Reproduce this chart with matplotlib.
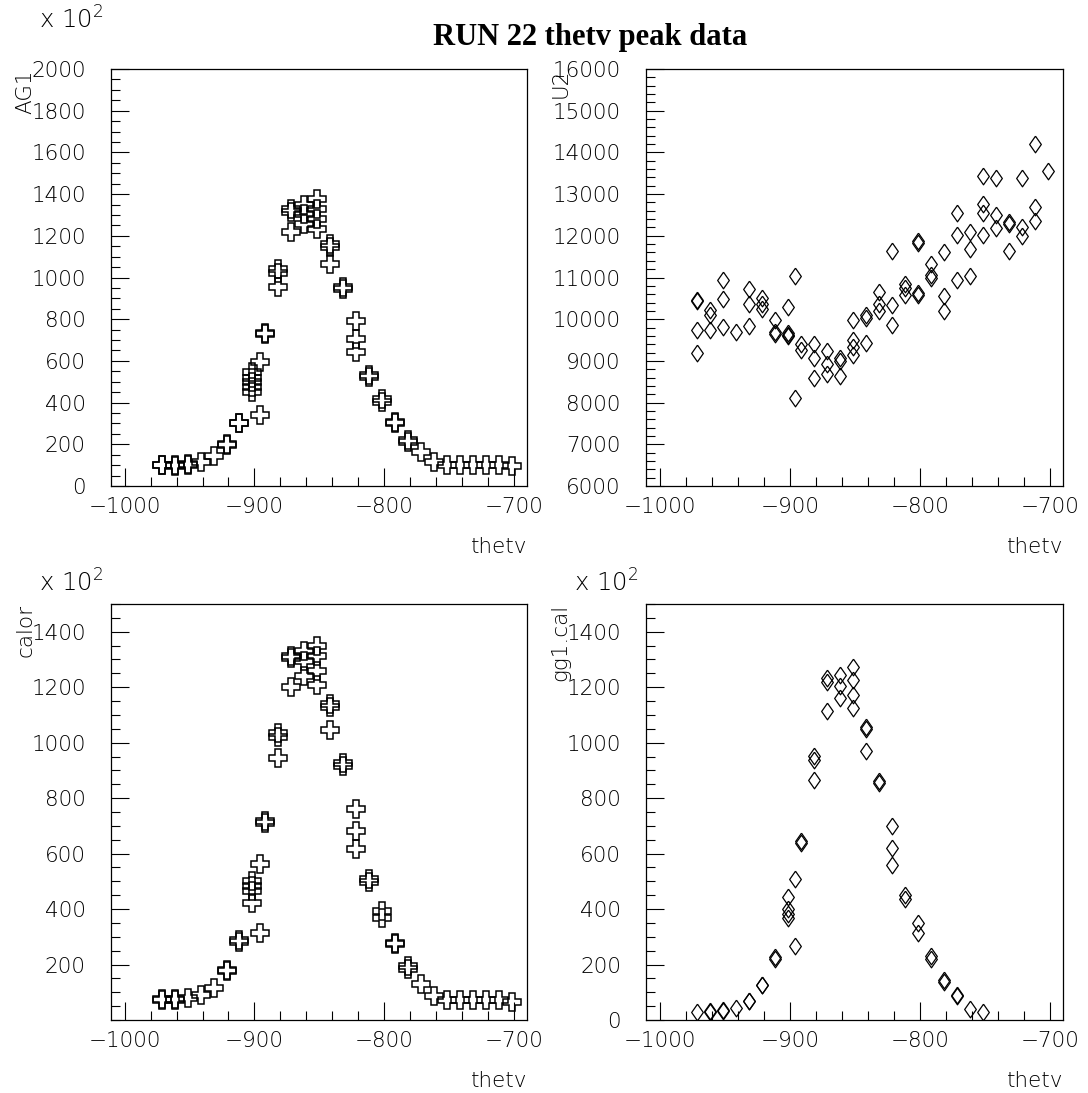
import numpy as np
import matplotlib
matplotlib.use("Agg")
import matplotlib.pyplot as plt
from matplotlib.ticker import MultipleLocator
from matplotlib import font_manager

# thetv scan points (same grid for all four plots)
thetv = [-971.5, -961.5, -951.5, -941.5, -931.5, -921.5, -911.5, -901.5, -896.0,
         -891.5, -881.5, -871.5, -861.5, -851.5, -841.5, -831.5, -821.5, -811.5,
         -801.5, -791.5, -781.5, -771.5, -761.5, -751.5, -741.5, -731.5, -721.5,
         -711.5, -701.5]

# AG1 (x 10^2), a few readings per point
ag1 = [[101, 99], [100, 98], [105, 103], [114], [144], [200, 197], [304, 300],
       [545, 520, 498, 474, 450], [597, 342], [734, 730], [1042, 1020, 954],
       [1330, 1314, 1218], [1346, 1306, 1258], [1378, 1330, 1282, 1234],
       [1162, 1146, 1066], [954, 944], [789, 706, 642], [534, 525], [418, 402],
       [306, 301], [221, 210], [165], [114], [101], [100], [100], [100], [100], [96]]

# U2
u2 = [[10470, 10438, 9732, 9186], [10230, 10093, 9732], [10936, 10486, 9812], [9692],
      [10735, 10358, 9836], [10518, 10374, 10254], [9989, 9692, 9652],
      [10294, 9668, 9628, 9604], [11040, 8103], [9411, 9266], [9395, 9066, 8592],
      [9234, 8930, 8689], [9066, 9009, 8649], [9973, 9491, 9331, 9130],
      [10093, 10029, 9427], [10655, 10374, 10197], [11642, 10334, 9852],
      [10855, 10751, 10574], [11883, 11835, 10631, 10574], [11321, 11056, 10992],
      [11618, 10558, 10197], [12541, 12019, 10952], [12099, 11674, 11032],
      [13440, 12766, 12541, 12019], [13384, 12501, 12180], [12340, 12284, 11642],
      [13384, 12220, 12003], [14210, 12685, 12356], [13545]]

# calor (x 10^2)
calor = [[75, 72], [75, 73], [78], [89], [117], [179, 176], [287, 281],
         [501, 483, 465, 423], [562, 313], [716, 712], [1034, 1019, 944],
         [1313, 1305, 1199], [1331, 1295, 1241], [1349, 1311, 1259, 1207],
         [1139, 1127, 1045], [925, 916], [762, 682, 618], [507, 498], [393, 369],
         [276, 273], [195, 183], [129], [87], [71], [71], [71], [71], [71], [65]]

# gg1.cal (x 10^2), only up to -751.5
gg1cal = [[29], [31, 30], [35, 34], [43], [69, 67], [128, 126], [227, 221],
          [444, 402, 384, 366], [510, 266], [645, 640], [953, 937, 865],
          [1232, 1220, 1114], [1244, 1205, 1160], [1272, 1226, 1172, 1126],
          [1058, 1049, 971], [862, 853], [699, 619, 558], [452, 438], [348, 312],
          [230, 221], [146, 137], [89, 86], [41], [29]]


def flatten(xs, groups):
    px, py = [], []
    for x, g in zip(xs, groups):
        for v in g:
            px.append(x)
            py.append(v)
    return px, py


# thin sans like the PAW output, if a light DejaVu is around
weight = 'normal'
try:
    path = font_manager.findfont(font_manager.FontProperties(family='DejaVu Sans', weight=200),
                                 fallback_to_default=False)
    if 'Light' in path:
        weight = 200
except Exception:
    pass

plt.rcParams['font.family'] = ['DejaVu Sans']
plt.rcParams['font.weight'] = weight
plt.rcParams['mathtext.default'] = 'regular'

W, H = 1088, 1093
fig = plt.figure(figsize=(W / 100, H / 100), dpi=100)


def box(l, t, r, b):
    return [l / W, 1 - b / H, (r - l) / W, (b - t) / H]


diamond = [(0, 1), (0.7, 0), (0, -1), (-0.7, 0), (0, 1)]
fs = 15.5

panels = [
    # rect, groups, ylabel, ylim, major, minor, marker, scaled
    (box(111, 69, 527, 486), ag1, 'AG1', (0, 2000), 200, 50, 'P', True),
    (box(646, 69, 1063, 486), u2, 'U2', (6000, 16000), 1000, 200, 'D', False),
    (box(111, 604, 527, 1020), calor, 'calor', (0, 1500), 200, 50, 'P', True),
    (box(646, 604, 1063, 1020), gg1cal, 'gg1.cal', (0, 1500), 200, 50, 'D', True),
]

for i, (rect, groups, ylab, ylim, maj, mnr, mk, scaled) in enumerate(panels):
    ax = fig.add_axes(rect)
    px, py = flatten(thetv, groups)
    if mk == 'P':
        ax.plot(px, py, linestyle='none', marker='P', ms=13, mfc='none',
                mec='black', mew=1.1)
    else:
        ax.plot(px, py, linestyle='none', marker=diamond, ms=12, mfc='none',
                mec='black', mew=0.9)
    ax.set_xlim(-1010.5, -690)
    ax.set_ylim(*ylim)
    ax.xaxis.set_major_locator(MultipleLocator(100))
    ax.xaxis.set_minor_locator(MultipleLocator(20))
    ax.yaxis.set_major_locator(MultipleLocator(maj))
    ax.yaxis.set_minor_locator(MultipleLocator(mnr))
    ax.tick_params(which='both', direction='in', top=False, right=False,
                   width=0.8, colors='black')
    ax.tick_params(which='major', length=13)
    ax.tick_params(which='minor', length=6.5)
    ax.tick_params(axis='y', which='major', pad=18, labelsize=fs)
    ax.tick_params(axis='x', which='major', pad=8, labelsize=fs)
    for s in ax.spines.values():
        s.set_linewidth(0.9)
    if i == 2:
        ax.set_yticks([t for t in range(200, 1500, 200)])
    ax.text(1.0, -0.146, 'thetv', transform=ax.transAxes, ha='right',
            va='center', fontsize=fs)
    ax.text(-0.205, 1.0, ylab, transform=ax.transAxes, rotation=90,
            ha='center', va='top', fontsize=fs)
    if scaled:
        yoff = 1.118 if i < 2 else 1.05
        ax.text(-0.018, yoff, r'x 10$^{2}$', transform=ax.transAxes,
                ha='right', va='center', fontsize=17.5)

fig.text(590 / W, 1 - 38 / H, 'RUN 22 thetv peak data', ha='center', va='center',
         fontsize=22, fontweight='bold', family='Liberation Serif')

fig.savefig('out.png', dpi=100)
